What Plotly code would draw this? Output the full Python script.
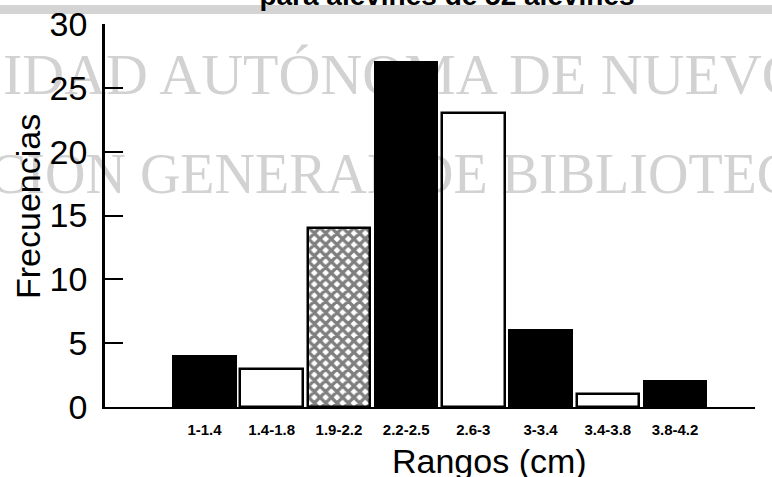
import plotly.graph_objects as go

# Frequency of each size range (cm)
rangos = ["1-1.4", "1.4-1.8", "1.9-2.2", "2.2-2.5", "2.6-3", "3-3.4", "3.4-3.8", "3.8-4.2"]
frecuencias = [4, 3, 14, 27, 23, 6, 1, 2]
posiciones = [1, 2, 3, 4, 5, 6, 7, 8]
y_ticks = [0, 5, 10, 15, 20, 25, 30]

# fill style per bar: black, open (transparent), or hatched
estilos = ["black", "open", "hatch", "black", "open", "black", "open", "black"]

W, H = 772, 477
L, R, T, B = 105, 17, 24, 70
PW, PH = W - L - R, H - T - B


def px_x(px):
    return (px - L) / PW


def px_y(py):
    return (H - B - py) / PH


fig = go.Figure()

for est in ["black", "open", "hatch"]:
    xs = [p for p, e in zip(posiciones, estilos) if e == est]
    ys = [f for f, e in zip(frecuencias, estilos) if e == est]
    if est == "black":
        marker = dict(color="black", line=dict(color="black", width=2))
    elif est == "open":
        marker = dict(color="rgba(255,255,255,0)", line=dict(color="black", width=2.5))
    else:
        marker = dict(color="white", line=dict(color="black", width=2.5),
                      pattern=dict(shape="x", fgcolor="black", bgcolor="white",
                                   size=8, solidity=0.65, fillmode="overlay"))
    fig.add_trace(go.Bar(x=xs, y=ys, width=0.93, marker=marker,
                         showlegend=False, hoverinfo="skip"))

serif = "Liberation Serif, Times New Roman, serif"
sans = "Liberation Sans, Arial, sans-serif"

# light grey background lettering, beneath the bars
for texto, x0, ytop, ybot, size in [
    ("IDAD AUTÓNOMA DE NUEVO", 0, 40, 97, 58),
    ("CION GENERAL DE BIBLIOTECAS", -14, 139, 196, 56),
]:
    fig.add_shape(type="rect", xref="paper", yref="paper", layer="below",
                  x0=px_x(x0), x1=px_x(1100), y0=px_y(ybot), y1=px_y(ytop),
                  line=dict(width=0), fillcolor="rgba(0,0,0,0)",
                  label=dict(text=texto, textposition="middle left", padding=0,
                             font=dict(family=serif, size=size, color="#d2d2d2")))

# grey band at the top of the page
fig.add_shape(type="rect", xref="paper", yref="paper", layer="below",
              x0=px_x(0), x1=px_x(W), y0=px_y(14), y1=px_y(5),
              line=dict(width=0), fillcolor="#d4d4d4")

# heading, mostly cut off by the page edge
fig.add_shape(type="rect", xref="paper", yref="paper", layer="above",
              x0=px_x(147), x1=px_x(747), y0=px_y(8), y1=px_y(-60),
              line=dict(width=0), fillcolor="rgba(0,0,0,0)",
              label=dict(text="<b>para alevines de 52 alevines</b>",
                         textposition="bottom center", padding=0,
                         font=dict(family=sans, size=28, color="black")))

fig.add_annotation(text="Frecuencias", xref="paper", yref="paper", textangle=-90,
                   x=px_x(28), y=px_y(207), xanchor="center", yanchor="middle",
                   showarrow=False, font=dict(family=sans, size=34, color="black"))
fig.add_annotation(text="Rangos (cm)", xref="paper", yref="paper",
                   x=px_x(489), y=px_y(461), xanchor="center", yanchor="middle",
                   showarrow=False, font=dict(family=sans, size=34, color="black"))

fig.update_layout(
    width=W, height=H,
    margin=dict(l=L, r=R, t=T, b=B, autoexpand=False),
    paper_bgcolor="white", plot_bgcolor="rgba(0,0,0,0)",
    bargap=0,
    xaxis=dict(range=[-0.48, 9.19], tickvals=posiciones, ticktext=rangos,
               showline=True, linecolor="black", linewidth=2, ticks="",
               showgrid=False, zeroline=False, ticklabelstandoff=8, automargin=False,
               tickfont=dict(family=sans, size=15, color="black", weight="bold")),
    yaxis=dict(range=[0, 30], tickvals=y_ticks, showline=True, linecolor="black",
               linewidth=2.5, ticks="inside", ticklen=18, tickwidth=2, tickcolor="black",
               showgrid=False, zeroline=False, ticklabelstandoff=8, automargin=False,
               tickfont=dict(family=sans, size=34, color="black")),
)

fig.write_html("out.html")
